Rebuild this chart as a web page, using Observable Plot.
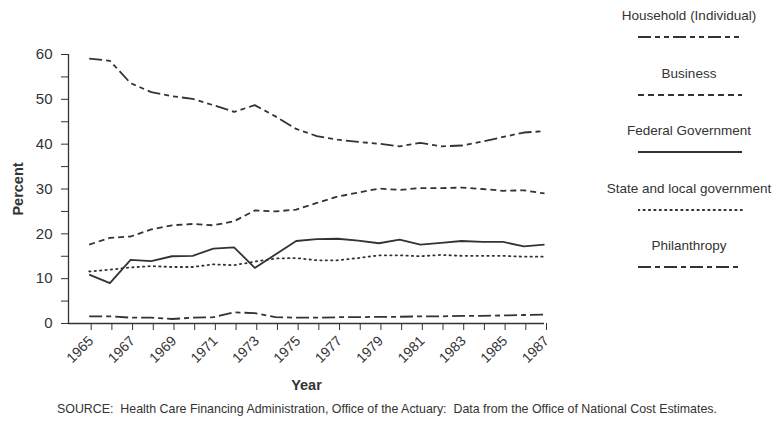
<!DOCTYPE html>
<html>
<head>
<meta charset="utf-8">
<script src="https://cdn.jsdelivr.net/npm/d3@7"></script>
<script src="https://cdn.jsdelivr.net/npm/@observablehq/plot@0.6"></script>
<style>
  html, body { margin: 0; padding: 0; background: #fff; }
  #wrap { position: relative; width: 782px; height: 430px; font-family: "Liberation Sans", Arial, sans-serif; color: #333; }
  #chart { position: absolute; left: 0; top: 0; }
  #legend { position: absolute; left: 596px; top: 0; width: 186px; }
  .item { position: absolute; left: 0; width: 186px; text-align: center; }
  .item .lab { font-size: 13.5px; color: #333; white-space: nowrap; }
  .item svg { display: block; position: absolute; left: 42px; }
  #caption { position: absolute; left: 57px; top: 402px; font-size: 12.4px; color: #333; white-space: pre; }
</style>
</head>
<body>
<div id="wrap">
  <div id="chart"></div>
  <div id="legend"></div>
  <div id="caption">SOURCE:  Health Care Financing Administration, Office of the Actuary:  Data from the Office of National Cost Estimates.</div>
</div>
<script>
const years = [1965,1966,1967,1968,1969,1970,1971,1972,1973,1974,1975,1976,1977,1978,1979,1980,1981,1982,1983,1984,1985,1986,1987];
const household = [59.1,58.6,53.6,51.6,50.7,50.1,48.7,47.2,48.7,46.2,43.4,41.8,41.0,40.5,40.1,39.5,40.3,39.5,39.7,40.6,41.6,42.6,42.9];
const business  = [17.6,19.1,19.4,21.0,21.9,22.2,21.9,22.8,25.2,25.0,25.4,26.9,28.3,29.2,30.1,29.8,30.2,30.2,30.3,30.0,29.6,29.7,29.0];
const federal   = [10.9,9.0,14.2,13.9,15.0,15.1,16.7,17.0,12.4,15.4,18.4,18.8,18.9,18.5,17.9,18.7,17.6,18.0,18.4,18.2,18.2,17.2,17.6];
const stateLocal= [11.6,12.0,12.5,12.8,12.6,12.6,13.2,13.0,13.8,14.5,14.6,14.1,14.1,14.6,15.2,15.2,15.0,15.3,15.1,15.1,15.1,14.9,14.9];
const philanthropy = [1.6,1.6,1.3,1.3,1.0,1.3,1.4,2.5,2.3,1.4,1.3,1.3,1.4,1.4,1.5,1.5,1.6,1.6,1.7,1.7,1.8,1.9,2.0];

const seriesNames = ["Household (Individual)","Business","Federal Government","State and local government","Philanthropy"];
const seriesValues = [household, business, federal, stateLocal, philanthropy];
const yTicks = [0,5,10,15,20,25,30,35,40,45,50,55,60];
const xLabelYears = [1965,1967,1969,1971,1973,1975,1977,1979,1981,1983,1985,1987];

const dashes = {
  "Household (Individual)": "13,4,5,4,5,4",
  "Business": "6,4",
  "Federal Government": null,
  "State and local government": "1.4,4",
  "Philanthropy": "13,4,5,4"
};

const ink = "#333";

const lineMarks = seriesNames.map((name, i) => {
  const rows = years.map((yr, j) => ({year: yr, value: seriesValues[i][j]}));
  return Plot.line(rows, {
    x: "year", y: "value",
    stroke: ink, strokeWidth: 1.8,
    strokeDasharray: dashes[name] || undefined,
    strokeLinecap: name === "State and local government" ? "round" : "butt"
  });
});

const chart = Plot.plot({
  width: 560,
  height: 398,
  marginLeft: 68,
  marginRight: 16,
  marginTop: 54,
  marginBottom: 75,
  style: {fontFamily: "Liberation Sans, Arial, sans-serif", color: ink, background: "white"},
  x: {domain: [1964, 1987]},
  y: {domain: [0, 60]},
  marks: [
    Plot.axisY({
      ticks: yTicks,
      tickFormat: d => (d % 10 === 0 ? String(d) : ""),
      tickSize: 7, tickPadding: 9, fontSize: 15,
      label: "Percent", labelAnchor: "center", labelOffset: 56,
      stroke: ink
    }),
    Plot.axisX({
      ticks: years,
      tickFormat: d => (xLabelYears.includes(d) ? String(d) : ""),
      tickSize: 7, tickPadding: 8, tickRotate: -45, fontSize: 14, dx: 2,
      label: "Year", labelAnchor: "center", labelOffset: 66,
      stroke: ink
    }),
    Plot.ruleX([1964], {y1: 0, y2: 60, stroke: ink, strokeWidth: 1.3}),
    Plot.ruleY([0], {x1: 1964, x2: 1987, stroke: ink, strokeWidth: 1.3}),
    ...lineMarks
  ]
});
document.getElementById("chart").appendChild(chart);

// axis titles: bold, no arrows
chart.querySelectorAll("g[aria-label='x-axis label'] text").forEach(t => {
  t.textContent = "Year";
  t.setAttribute("font-weight", "bold");
  t.setAttribute("font-size", "14.5");
});
chart.querySelectorAll("g[aria-label='y-axis label'] text").forEach(t => {
  t.textContent = "Percent";
  t.setAttribute("font-weight", "bold");
  t.setAttribute("font-size", "14.5");
});

// legend
const legend = document.getElementById("legend");
seriesNames.forEach((name, i) => {
  const item = document.createElement("div");
  item.className = "item";
  item.style.top = (8 + i * 57.5) + "px";
  const lab = document.createElement("div");
  lab.className = "lab";
  lab.textContent = name;
  item.appendChild(lab);
  const ns = "http://www.w3.org/2000/svg";
  const svg = document.createElementNS(ns, "svg");
  svg.setAttribute("width", "106");
  svg.setAttribute("height", "10");
  svg.style.top = "24px";
  const ln = document.createElementNS(ns, "line");
  ln.setAttribute("x1", "0"); ln.setAttribute("x2", "104");
  ln.setAttribute("y1", "5"); ln.setAttribute("y2", "5");
  ln.setAttribute("stroke", ink);
  ln.setAttribute("stroke-width", "1.8");
  if (dashes[name]) ln.setAttribute("stroke-dasharray", dashes[name]);
  if (name === "State and local government") ln.setAttribute("stroke-linecap", "round");
  svg.appendChild(ln);
  item.appendChild(svg);
  legend.appendChild(item);
});
</script>
</body>
</html>
